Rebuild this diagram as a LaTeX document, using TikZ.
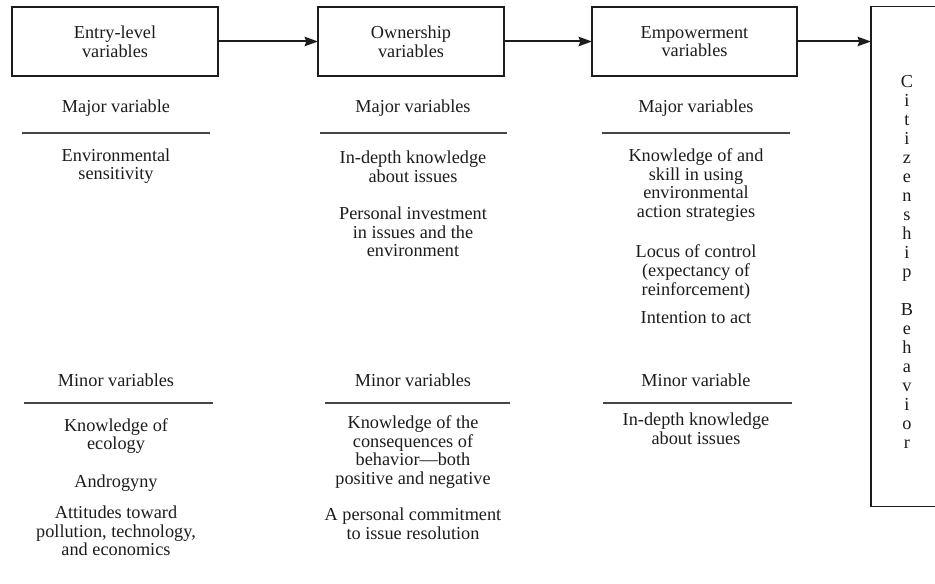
\documentclass[tikz,border=0pt]{standalone}
\usepackage{fontspec}
\setmainfont{Liberation Serif}
\usetikzlibrary{arrows.meta}
\definecolor{ink}{RGB}{28,28,28}
\definecolor{rulegray}{RGB}{70,70,70}
\newcommand\diagfont{\fontsize{13.7}{14}\selectfont}
\newcommand\stackfont{\fontsize{13.7}{14.25}\selectfont}
\begin{document}
\begin{tikzpicture}[x=0.75pt,y=-0.75pt,
  stagebox/.style={draw=ink, line width=1.4pt, outer sep=0pt, inner sep=0pt,
    align=center, font=\diagfont, text=ink},
  txt/.style={align=center, font=\diagfont, text=ink, inner sep=0pt},
  divider/.style={draw=rulegray, line width=0.9pt},
  flow/.style={draw=ink, line width=1.5pt,
    -{Stealth[length=10pt,width=7pt,inset=1.2pt]}}
]
\useasboundingbox (0,0) rectangle (935,584);
\clip (0,0) rectangle (935,584);

% stage boxes
\node[stagebox, minimum width=154.5pt, minimum height=51.75pt] (entry) at (115,41.5) {Entry-level\\variables};
\node[stagebox, minimum width=139.5pt, minimum height=51.75pt] (own) at (411,41.5) {Ownership\\variables};
\node[stagebox, minimum width=153.75pt, minimum height=51.75pt] (emp) at (694.5,41.5) {Empowerment\\variables};
\node[stagebox, minimum width=59.25pt, minimum height=375pt] (cit) at (910.5,256.5) {};
\node[txt, font=\stackfont] (citword) at (907,262) {C\\i\\t\\i\\z\\e\\n\\s\\h\\i\\p\\[14.25pt]B\\e\\h\\a\\v\\i\\o\\r};

% flow between stages
\draw[flow] (entry) -- (own);
\draw[flow] (own) -- (emp);
\draw[flow] (emp.east) -- (emp.east -| cit.west);

% major variables
\node[txt] (majA) at (116,108) {Major variable};
\node[txt] (majB) at (413,108) {Major variables};
\node[txt] (majC) at (696,108) {Major variables};
\draw[divider] (22,133) -- (210,133);
\draw[divider] (320,133) -- (507,133);
\draw[divider] (602,133) -- (790,133);

\node[txt] (envsens) at (116,166) {Environmental\\sensitivity};
\node[txt] (depthA) at (413,167) {In-depth knowledge\\about issues};
\node[txt] (invest) at (413,232) {Personal investment\\in issues and the\\environment};
\node[txt] (skill) at (696,185) {Knowledge of and\\skill in using\\environmental\\action strategies};
\node[txt] (locus) at (696,272) {Locus of control\\(expectancy of\\reinforcement)};
\node[txt] (intent) at (696,318) {Intention to act};

% minor variables
\node[txt] (minA) at (116,380) {Minor variables};
\node[txt] (minB) at (413,380) {Minor variables};
\node[txt] (minC) at (696,380) {Minor variable};
\draw[divider] (24,403) -- (213,403);
\draw[divider] (325,403) -- (510,403);
\draw[divider] (603,403) -- (792,403);

\node[txt] (ecology) at (116,436) {Knowledge of\\ecology};
\node[txt] (andro) at (116,483) {Androgyny};
\node[txt] (attit) at (116,531) {Attitudes toward\\pollution, technology,\\and economics};
\node[txt] (conseq) at (413,452) {Knowledge of the\\consequences of\\behavior---both\\positive and negative};
\node[txt] (commit) at (413,524) {A personal commitment\\to issue resolution};
\node[txt] (depthC) at (696,429) {In-depth knowledge\\about issues};
\end{tikzpicture}
\end{document}
